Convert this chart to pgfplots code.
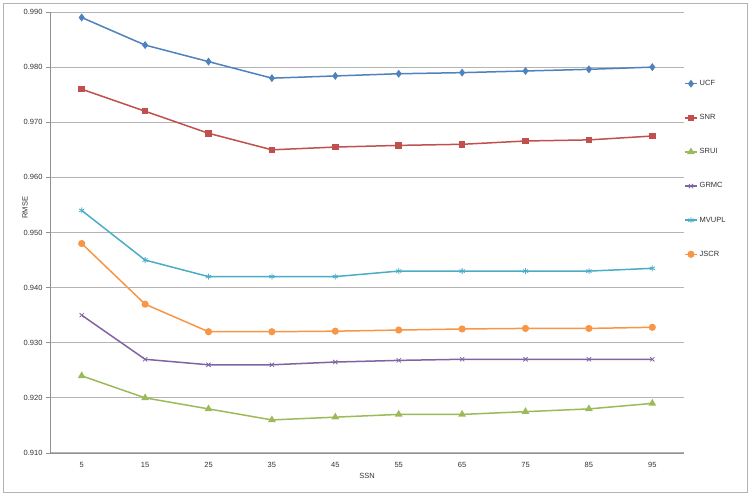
\documentclass[border=0pt]{standalone}
\usepackage{fontspec}
\setmainfont{Liberation Sans}
\usepackage{pgfplots}
\pgfplotsset{compat=1.18}
\definecolor{cUCF}{HTML}{4F81BD}
\definecolor{cSNR}{HTML}{C0504D}
\definecolor{cSRUI}{HTML}{9BBB59}
\definecolor{cGRMC}{HTML}{8064A2}
\definecolor{cMVUPL}{HTML}{4BACC6}
\definecolor{cJSCR}{HTML}{F79646}
\definecolor{gridgray}{HTML}{B4B4B4}
\definecolor{axisgray}{HTML}{909090}
\begin{document}
\begin{tikzpicture}[x=1pt,y=1pt]
\path[use as bounding box] (0,0) rectangle (750,495);
\draw[color=gridgray, line width=0.9pt] (3,3) rectangle (747,492);
\begin{axis}[
  at={(50pt,42pt)}, anchor=south west,
  scale only axis, width=634pt, height=441pt,
  xmin=-0.5, xmax=9.5, ymin=0.910, ymax=0.990,
  axis x line=bottom, axis y line=left,
  axis line style={-, draw=axisgray, line width=0.8pt},
  xtick={0,1,2,3,4,5,6,7,8,9},
  xticklabels={5,15,25,35,45,55,65,75,85,95},
  x tick style={draw=none},
  extra x ticks={-0.5,0.5,1.5,2.5,3.5,4.5,5.5,6.5,7.5,8.5,9.5},
  extra x tick labels={},
  extra x tick style={tick align=outside, major tick length=4pt, grid=none, tick style={draw=axisgray, line width=0.8pt}},
  ytick={0.910,0.920,0.930,0.940,0.950,0.960,0.970,0.980,0.990},
  y tick style={draw=axisgray, line width=0.8pt},
  tick align=outside, major tick length=4pt,
  ymajorgrids,
  grid style={draw=gridgray, line width=1pt},
  yticklabel style={/pgf/number format/.cd, fixed, fixed zerofill, precision=3, /pgf/number format/assume math mode=true},
  /pgf/number format/assume math mode=true,
  tick label style={font=\fontsize{7.5}{9}\selectfont, color=black!80},
  xticklabel style={yshift=-2pt},
  xlabel={SSN}, ylabel={RMSE},
  label style={font=\fontsize{7.5}{9}\selectfont, color=black!80},
  xlabel style={at={(axis description cs:0.5,0)}, anchor=center, yshift=-23pt},
  ylabel style={at={(axis description cs:-0.0395,0.556)}, anchor=center},
  legend style={at={(1,0.644)}, anchor=west, xshift=-3pt, draw=none, fill=none,
     font=\fontsize{7.5}{9}\selectfont, row sep=23.4pt, text=black!80},
  legend cell align=left,
  legend image code/.code={\draw[mark repeat=2,mark phase=2] plot coordinates {(0pt,0pt) (6pt,0pt) (12pt,0pt)};},
  every axis plot/.append style={line width=1.5pt},
  clip=false,
]
\addplot[color=cUCF, mark=diamond*, mark size=2.8pt] coordinates {
 (0,0.9890) (1,0.9840) (2,0.9810) (3,0.9780) (4,0.9784) (5,0.9788) (6,0.9790) (7,0.9793) (8,0.9796) (9,0.9800)};
\addlegendentry{UCF}
\addplot[color=cSNR, mark=square*, mark size=2.5pt] coordinates {
 (0,0.9760) (1,0.9720) (2,0.9680) (3,0.9650) (4,0.9655) (5,0.9658) (6,0.9660) (7,0.9666) (8,0.9668) (9,0.9675)};
\addlegendentry{SNR}
\addplot[color=cSRUI, mark=triangle*, mark size=3pt] coordinates {
 (0,0.9240) (1,0.9200) (2,0.9180) (3,0.9160) (4,0.9165) (5,0.9170) (6,0.9170) (7,0.9175) (8,0.9180) (9,0.9190)};
\addlegendentry{SRUI}
\addplot[color=cGRMC, mark=x, mark size=3pt, mark options={line width=0.8pt}] coordinates {
 (0,0.9350) (1,0.9270) (2,0.9260) (3,0.9260) (4,0.9265) (5,0.9268) (6,0.9270) (7,0.9270) (8,0.9270) (9,0.9270)};
\addlegendentry{GRMC}
\addplot[color=cMVUPL, mark=asterisk, mark size=3pt, mark options={line width=0.8pt}] coordinates {
 (0,0.9540) (1,0.9450) (2,0.9420) (3,0.9420) (4,0.9420) (5,0.9430) (6,0.9430) (7,0.9430) (8,0.9430) (9,0.9435)};
\addlegendentry{MVUPL}
\addplot[color=cJSCR, mark=*, mark size=2.8pt] coordinates {
 (0,0.9480) (1,0.9370) (2,0.9320) (3,0.9320) (4,0.9321) (5,0.9323) (6,0.9325) (7,0.9326) (8,0.9326) (9,0.9328)};
\addlegendentry{JSCR}
\end{axis}
\end{tikzpicture}
\end{document}
